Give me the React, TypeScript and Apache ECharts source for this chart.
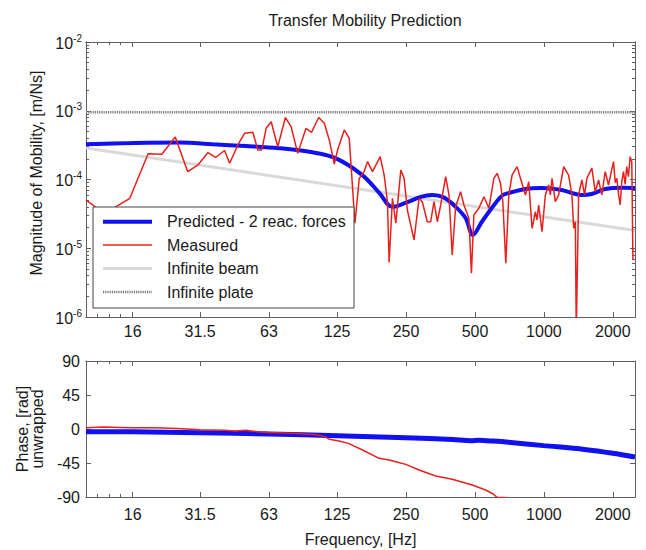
import React, { useEffect, useRef } from 'react';
import * as echarts from 'echarts';

// ---------- data ----------
const predFreq = [10, 18.4, 25.7, 35.7, 50, 70, 97.4, 123.6, 161, 191, 218, 250, 290, 325, 365, 412, 455, 490, 536, 615, 660, 703, 831, 977, 1195, 1461, 1615, 1853, 2200, 2500];
const predMag = [3.25e-4, 3.43e-4, 3.45e-4, 3.25e-4, 3.07e-4, 2.85e-4, 2.49e-4, 2.03e-4, 1.16e-4, 6.4e-5, 4.0e-5, 4.6e-5, 5.6e-5, 5.95e-5, 5.5e-5, 4.0e-5, 2.75e-5, 1.56e-5, 2.43e-5, 4.55e-5, 5.9e-5, 6.37e-5, 7.28e-5, 7.52e-5, 7.03e-5, 5.95e-5, 6.16e-5, 7.28e-5, 7.6e-5, 7.55e-5];

const measFreq = [10, 11.5, 13.15, 15.54, 18.68, 21.43, 24.54, 27.82, 30.84, 34.1, 36.8, 40.3, 42.4, 46.06, 49.26, 53.55, 56.3, 58.6, 61.2, 64.4, 68.8, 74.3, 78.7, 84.1, 91.4, 96.7, 103.8, 109.9, 115.5, 121.5, 125.6, 134.3, 141.2, 149.5, 156.1, 164.1, 169.6, 178.4, 192.7, 200.6, 207.3, 210.9, 218, 225.6, 237.1, 245.1, 253.3, 270.9, 284.9, 294.4, 309.6, 320.3, 331.1, 342.3, 354.2, 372.4, 384.9, 397.8, 411.6, 432.8, 447.4, 470.4, 482.4, 494.6, 520, 546.8, 575, 604.6, 624.9, 646.5, 661.7, 681.8, 702.6, 726.1, 763.5, 790, 830.8, 858.8, 887.7, 918.4, 933.1, 949.1, 981.1, 1015, 1049, 1067, 1085, 1122, 1160, 1220, 1282, 1326, 1349, 1372, 1385, 1418, 1465, 1506, 1541, 1620, 1676, 1733, 1791, 1853, 1915, 1960, 2014, 2050, 2082, 2120, 2154, 2190, 2226, 2265, 2301, 2340, 2381, 2420, 2449];
const measMag = [5.03e-5, 3.6e-5, 3.81e-5, 5.33e-5, 2.37e-4, 2.33e-4, 4.15e-4, 1.3e-4, 1.63e-4, 2.47e-4, 2.09e-4, 2.64e-4, 1.72e-4, 3.18e-4, 4.7e-4, 4.86e-4, 2.69e-4, 2.69e-4, 5.56e-4, 6.93e-4, 3.0e-4, 7.97e-4, 5.86e-4, 2.4e-4, 5.56e-4, 4.86e-4, 7.97e-4, 6.56e-4, 3.76e-4, 1.68e-4, 2.69e-4, 5.25e-4, 3.97e-4, 2.31e-5, 1.04e-4, 1.31e-4, 1.82e-4, 1.3e-4, 2.15e-4, 1.16e-4, 4.75e-5, 6.21e-6, 5.33e-5, 2.31e-5, 1.37e-4, 1.04e-4, 3.6e-5, 1.32e-5, 5.33e-5, 4.75e-5, 2.43e-5, 2.43e-5, 4.75e-5, 2.43e-5, 4.26e-5, 1.1e-4, 5.96e-5, 7.98e-6, 4.02e-5, 6.65e-5, 4.26e-5, 2.73e-5, 4.32e-6, 3.05e-5, 3.81e-5, 5.62e-5, 3.81e-5, 1.04e-4, 1.23e-4, 8.81e-5, 4.75e-5, 6.04e-6, 5.96e-5, 1.16e-4, 1.54e-4, 1.04e-4, 5.96e-5, 9.29e-5, 1.95e-5, 3.4e-5, 2.58e-5, 4.26e-5, 1.74e-5, 5.96e-5, 8.32e-5, 5.96e-5, 1.04e-4, 4.75e-5, 5.96e-5, 1.54e-4, 1.16e-4, 5.96e-5, 1.95e-5, 2.43e-5, 6e-7, 5.96e-5, 9.84e-5, 5.96e-5, 1.04e-4, 1.46e-4, 6.65e-5, 9.84e-5, 5.96e-5, 1.3e-4, 8.32e-5, 1.2e-4, 1.82e-4, 9.0e-5, 1.04e-4, 6.0e-5, 4.26e-5, 9.5e-5, 1.3e-4, 8.5e-5, 1.54e-4, 1.1e-4, 2.15e-4, 1.82e-4, 6.75e-6];

const beamFreq = [10, 2500];
const beamMag = [2.87e-4, 1.81e-5];
const plateFreq = [10, 2500];
const plateMag = [9.5e-4, 9.5e-4];

const phasePredFreq = [10, 16, 31.5, 63, 125, 250, 400, 480, 520, 600, 700, 1000, 1500, 2000, 2500];
const phasePred = [-3.5, -3.8, -4.9, -6.6, -8.9, -11.5, -14, -15.5, -15, -16, -17.5, -22, -27, -32, -37];
const phaseMeasFreq = [10, 12, 14, 16, 20, 25, 31.5, 40, 45, 50, 56, 63, 80, 101, 110, 115.5, 127.7, 140, 161.4, 190.8, 210.9, 230, 249.4, 284.9, 336.9, 397.8, 486.3, 556.2, 600, 624.9, 702.6];
const phaseMeas = [1.5, 2.5, 2, 1.5, 1.5, 0.5, -1, -1.5, -2.5, -1.5, -3.5, -4.5, -5.5, -7.5, -10, -13.5, -16, -19, -27.8, -38.8, -41, -44, -46.8, -54.3, -62.2, -66.6, -74.1, -80.7, -86, -90.4, -91];

// tick labels / positions
const xTicks = [16, 31.5, 63, 125, 250, 500, 1000, 2000];
const xMinorTicks = [11.2, 12.6, 14.1];
const yDecades = [1e-6, 1e-5, 1e-4, 1e-3, 1e-2];
const yMinor: number[] = [];
for (let e = -6; e < -2; e++) for (let k = 2; k <= 9; k++) yMinor.push(+(k * Math.pow(10, e)).toPrecision(3));

const legendNames = ['Predicted - 2 reac. forces', 'Measured', 'Infinite beam', 'Infinite plate'];

// ---------- styles ----------
const FONT = '"Liberation Sans", Arial, Helvetica, sans-serif';
const AX = '#5f5f5f';
const BLUE = '#1010f0';
const RED = '#e8201c';
const GRAY = '#d9d9d9';
const PLATE = '#7a7a7a';
const TXT = '#1a1a1a';

const pair = (xs: number[], ys: number[]) => xs.map((x, i) => [x, ys[i]]);

function xAxisDef(grid: number, position: 'top' | 'bottom', ticks: number[], len: number, labels: boolean, margin = 6, name?: string) {
  return {
    type: 'log', logBase: 10, min: 10, max: 2500, gridIndex: grid, position,
    name, nameLocation: 'middle', nameGap: 34,
    nameTextStyle: { fontSize: 16, fontFamily: FONT, color: TXT },
    axisLine: { show: true, onZero: false, lineStyle: { color: AX, width: 1 } },
    axisTick: { show: true, inside: true, length: len, customValues: ticks, lineStyle: { color: AX, width: 1 } },
    axisLabel: labels
      ? { show: true, customValues: ticks, formatter: (v: number) => String(v), fontSize: 16, fontFamily: FONT, color: TXT, margin }
      : { show: false },
    splitLine: { show: false }, minorTick: { show: false }, minorSplitLine: { show: false },
  };
}

function yLogDef(position: 'left' | 'right', ticks: number[], len: number, labels: boolean, name?: string) {
  return {
    type: 'log', logBase: 10, min: 1e-6, max: 1e-2, gridIndex: 0, position,
    name, nameLocation: 'middle', nameGap: 39,
    nameTextStyle: { fontSize: 16, fontFamily: FONT, color: TXT, padding: [0, 0, 0, 13] },
    axisLine: { show: true, onZero: false, lineStyle: { color: AX, width: 1 } },
    axisTick: { show: true, inside: true, length: len, customValues: ticks, lineStyle: { color: AX, width: 1 } },
    axisLabel: labels
      ? {
          show: true, customValues: ticks, margin: 4,
          formatter: (v: number) => '{b|10}{s|' + Math.round(Math.log10(v)) + '}',
          rich: {
            b: { fontSize: 16, fontFamily: FONT, color: TXT, lineHeight: 18, verticalAlign: 'bottom' },
            s: { fontSize: 10, fontFamily: FONT, color: TXT, lineHeight: 10, verticalAlign: 'top' },
          },
        }
      : { show: false },
    splitLine: { show: false }, minorTick: { show: false },
  };
}

function yPhaseDef(position: 'left' | 'right', labels: boolean, name?: string) {
  return {
    type: 'value', min: -90, max: 90, interval: 45, gridIndex: 1, position,
    name, nameLocation: 'middle', nameGap: 38,
    nameTextStyle: { fontSize: 16, fontFamily: FONT, color: TXT, lineHeight: 15 },
    axisLine: { show: true, onZero: false, lineStyle: { color: AX, width: 1 } },
    axisTick: { show: true, inside: true, length: 5, lineStyle: { color: AX, width: 1 } },
    axisLabel: labels ? { show: true, fontSize: 16, fontFamily: FONT, color: TXT, margin: 6 } : { show: false },
    splitLine: { show: false },
  };
}

const legendY = [221.7, 245, 268.5, 292];
const legendStyles = [
  { stroke: BLUE, lineWidth: 4 },
  { stroke: RED, lineWidth: 1.5 },
  { stroke: GRAY, lineWidth: 3 },
  { stroke: PLATE, lineWidth: 2.5, lineDash: [1.2, 1] },
];

const option: any = {
  animation: false,
  backgroundColor: '#ffffff',
  title: {
    text: 'Transfer Mobility Prediction', left: 360, top: 7, textAlign: 'center',
    textStyle: { fontSize: 16, fontWeight: 'normal', fontFamily: FONT, color: TXT },
  },
  grid: [
    { left: 86, right: 11, top: 42, height: 275, containLabel: false },
    { left: 86, right: 11, top: 361, height: 136, containLabel: false },
  ],
  xAxis: [
    xAxisDef(0, 'bottom', xTicks, 5, true, 6),
    xAxisDef(0, 'top', xTicks, 5, false),
    xAxisDef(0, 'bottom', xMinorTicks, 3, false),
    xAxisDef(0, 'top', xMinorTicks, 3, false),
    xAxisDef(1, 'bottom', xTicks, 5, true, 9, 'Frequency, [Hz]'),
    xAxisDef(1, 'top', xTicks, 5, false),
    xAxisDef(1, 'bottom', xMinorTicks, 3, false),
    xAxisDef(1, 'top', xMinorTicks, 3, false),
  ],
  yAxis: [
    yLogDef('left', yDecades, 5, true, 'Magnitude of Mobility, [m/Ns]'),
    yLogDef('right', yDecades, 5, false),
    yLogDef('left', yMinor, 3, false),
    yLogDef('right', yMinor, 3, false),
    yPhaseDef('left', true, 'Phase, [rad]\nunwrapped'),
    yPhaseDef('right', false),
  ],
  series: [
    {
      name: legendNames[2], type: 'line', xAxisIndex: 0, yAxisIndex: 0, data: pair(beamFreq, beamMag),
      symbol: 'none', lineStyle: { color: GRAY, width: 3 }, itemStyle: { color: GRAY },
    },
    {
      name: legendNames[3], type: 'line', xAxisIndex: 0, yAxisIndex: 0, data: pair(plateFreq, plateMag),
      symbol: 'none', lineStyle: { color: PLATE, width: 2.5, type: [1.2, 1] }, itemStyle: { color: PLATE },
    },
    {
      name: legendNames[0], type: 'line', xAxisIndex: 0, yAxisIndex: 0, data: pair(predFreq, predMag),
      symbol: 'none', smooth: 0.35, lineStyle: { color: BLUE, width: 4 }, itemStyle: { color: BLUE },
    },
    {
      name: legendNames[1], type: 'line', xAxisIndex: 0, yAxisIndex: 0, data: pair(measFreq, measMag),
      symbol: 'none', lineStyle: { color: RED, width: 1.5 }, itemStyle: { color: RED },
    },
    {
      name: legendNames[0] + ' (phase)', type: 'line', xAxisIndex: 4, yAxisIndex: 4, data: pair(phasePredFreq, phasePred),
      symbol: 'none', smooth: 0.3, lineStyle: { color: BLUE, width: 5 }, itemStyle: { color: BLUE },
    },
    {
      name: legendNames[1] + ' (phase)', type: 'line', xAxisIndex: 4, yAxisIndex: 4, data: pair(phaseMeasFreq, phaseMeas),
      symbol: 'none', lineStyle: { color: RED, width: 1.5 }, itemStyle: { color: RED },
    },
  ],
  graphic: [
    {
      type: 'rect', z: 100, shape: { x: 93, y: 207, width: 261, height: 101 },
      style: { fill: '#ffffff', stroke: '#444444', lineWidth: 1 },
    },
    ...legendNames.map((n, i) => ({
      type: 'line', z: 101, shape: { x1: 103, y1: legendY[i], x2: 152, y2: legendY[i] },
      style: legendStyles[i],
    })),
    ...legendNames.map((n, i) => ({
      type: 'text', z: 101, x: 167, y: legendY[i],
      style: { text: n, fontSize: 16, fontFamily: FONT, fill: TXT, align: 'left', verticalAlign: 'middle' },
    })),
  ],
};

export default function App() {
  const ref = useRef<HTMLDivElement>(null);
  useEffect(() => {
    const chart = echarts.init(ref.current as HTMLDivElement, null, { renderer: 'svg' });
    chart.setOption(option);
    return () => chart.dispose();
  }, []);
  return (
    <div
      ref={ref}
      style={{ position: 'fixed', left: 0, top: 0, width: 646, height: 550, background: '#ffffff' }}
    />
  );
}
